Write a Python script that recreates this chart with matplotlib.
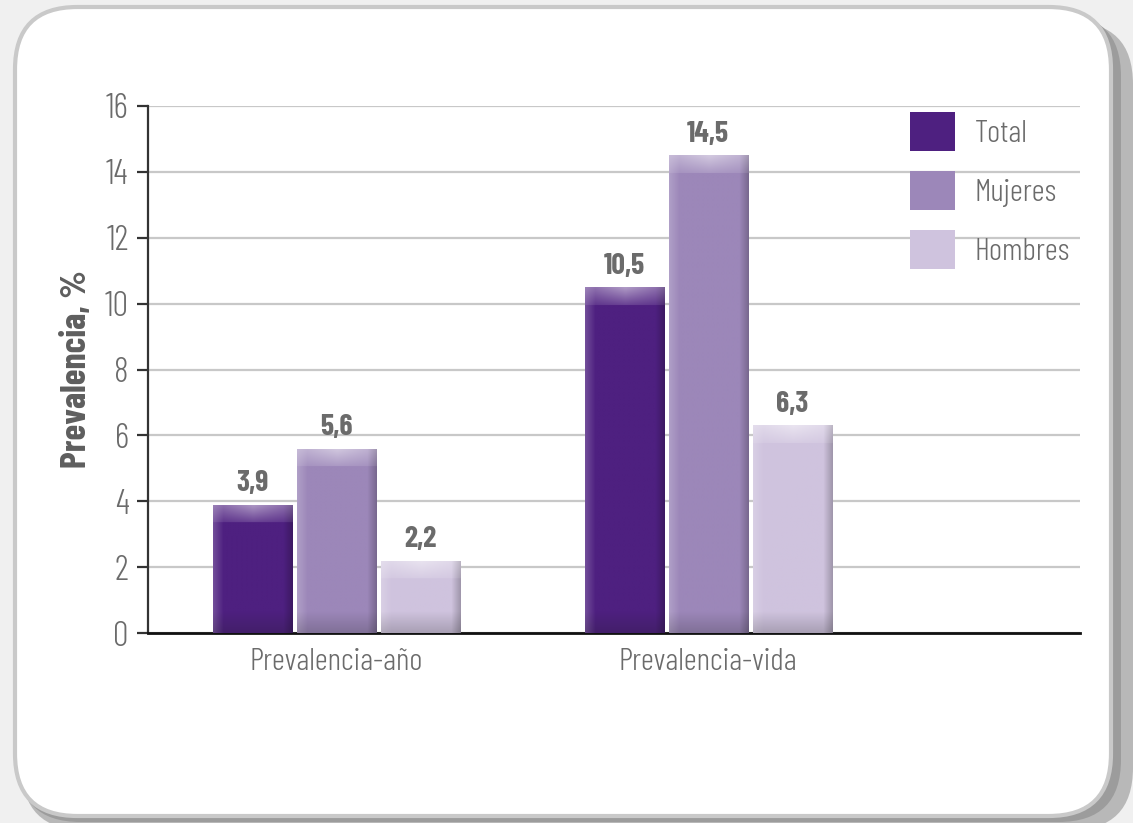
import numpy as np
import matplotlib.pyplot as plt
from matplotlib.patches import FancyBboxPatch, Patch
from matplotlib.colors import to_rgb

# Datos
categorias = ['Prevalencia-año', 'Prevalencia-vida']
series = ['Total', 'Mujeres', 'Hombres']
total = [3.9, 10.5]
mujeres = [5.6, 14.5]
hombres = [2.2, 6.3]
etiquetas = [['3,9', '10,5'], ['5,6', '14,5'], ['2,2', '6,3']]

colores = ['#4e2080', '#9c87b9', '#cfc3de']
gris = '#6b6b6b'

plt.rcParams['font.family'] = ['Barlow Condensed', 'DejaVu Sans']

W, H = 1133, 823
fig = plt.figure(figsize=(W / 100, H / 100), dpi=100)
fig.patch.set_facecolor('#f0f0f0')

# marco redondeado con sombra
def caja(x0, y0, x1, y1, **kw):
    # coordenadas en pixeles (origen arriba-izquierda)
    p = FancyBboxPatch((x0 / W, 1 - y1 / H), (x1 - x0) / W, (y1 - y0) / H,
                       boxstyle='round,pad=0,rounding_size=0.055',
                       transform=fig.transFigure, mutation_aspect=W / H, **kw)
    fig.patches.append(p)
    return p

caja(22, 22, 1133, 830, facecolor='#b8b8b8', edgecolor='none', zorder=-4)
caja(18, 14, 1121, 822, facecolor='#9c9c9c', edgecolor='none', zorder=-3)
caja(15, 7, 1111, 816, facecolor='white', edgecolor='#c9c9c9', linewidth=3, zorder=-2)

ax = fig.add_axes([148 / W, 1 - 633 / H, (1080 - 148) / W, (633 - 106) / H])
ax.set_facecolor('none')

ax.set_ylim(0, 16)
ax.set_xlim(-0.507, 2.0)


def mezclar(c, otro, t):
    return c * (1 - t) + np.array(otro) * t


def sombrear(barra, color, px_por_unidad):
    # relleno con efecto de relieve (brillo arriba, sombra abajo y a la derecha)
    x0 = barra.get_x()
    w = barra.get_width()
    h = barra.get_height()
    filas = max(int(h * px_por_unidad), 2)
    cols = 79
    base = np.array(to_rgb(color))
    img = np.tile(base, (filas, cols, 1))
    xx = np.arange(cols)
    yy = np.arange(filas)
    # borde izquierdo mas claro
    izq = np.clip(1 - xx / 10, 0, 1) * 0.2
    img = mezclar(img, (1, 1, 1), izq[None, :, None])
    # borde derecho mas oscuro
    der = np.clip((xx - (cols - 10)) / 10, 0, 1) * 0.25
    img = mezclar(img, (0, 0, 0), der[None, :, None])
    # banda superior clara
    sup = np.where(yy < 18, 0.55 * (1 - yy / 24), 0)
    sup = sup[:, None] * (0.55 + 0.45 * np.clip(1 - np.abs(xx - cols / 2) / (cols / 2), 0, 1))[None, :]
    img = mezclar(img, (1, 1, 1), sup[:, :, None])
    # banda inferior oscura
    inf = np.clip((yy - (filas - 22)) / 22, 0, 1) * 0.22
    img = mezclar(img, (0.1, 0.1, 0.1), inf[:, None, None])
    im = ax.imshow(np.clip(img, 0, 1), extent=(x0, x0 + w, 0, h),
                   aspect='auto', zorder=3, interpolation='bilinear')
    im.set_clip_path(barra)


valores = [total, mujeres, hombres]
x = np.arange(len(categorias))
ancho = 0.213
paso = 0.226
px_unidad = (633 - 106) / 16

for i, vals in enumerate(valores):
    pos = x + (i - 1) * paso
    barras = ax.bar(pos, vals, width=ancho, color=colores[i], zorder=2)
    for b in barras:
        sombrear(b, colores[i], px_unidad)
    for p, v, t in zip(pos, vals, etiquetas[i]):
        ax.text(p, v + 0.22, t, ha='center', va='bottom', fontsize=21.5,
                fontweight='bold', color=gris, zorder=5)

ax.set_yticks(np.arange(0, 17, 2))
ax.set_xticks(x)
ax.set_xticklabels(categorias)
ax.yaxis.grid(True, color='#c8c8c8', linewidth=1.6, zorder=0)
ax.set_axisbelow(True)

for s in ['top', 'right']:
    ax.spines[s].set_visible(False)
ax.spines['left'].set_color('#333333')
ax.spines['left'].set_linewidth(1.6)
ax.spines['bottom'].set_color('#111111')
ax.spines['bottom'].set_linewidth(2)

ax.tick_params(axis='y', length=8, width=1.6, color='#333333',
               labelsize=25, labelcolor=gris, pad=6)
for t in ax.get_yticklabels():
    t.set_fontweight(300)
ax.tick_params(axis='x', length=0, labelsize=23, labelcolor=gris, pad=11)
for t in ax.get_xticklabels():
    t.set_fontweight(300)

ax.set_ylabel('Prevalencia, %', fontsize=26, fontweight='bold',
              color='#5e5e5e', labelpad=8)

handles = [Patch(facecolor=c, edgecolor='none') for c in colores]
leg = ax.legend(handles, series, loc='upper left',
                bbox_to_anchor=((910 - 148) / 932, (633 - 112) / 527),
                frameon=False, prop={'size': 23, 'weight': 300},
                handlelength=1.4, handleheight=1.5, labelspacing=0.63,
                handletextpad=0.63, borderpad=0, borderaxespad=0,
                labelcolor=gris)

fig.savefig('out.png', dpi=100, facecolor=fig.get_facecolor())
